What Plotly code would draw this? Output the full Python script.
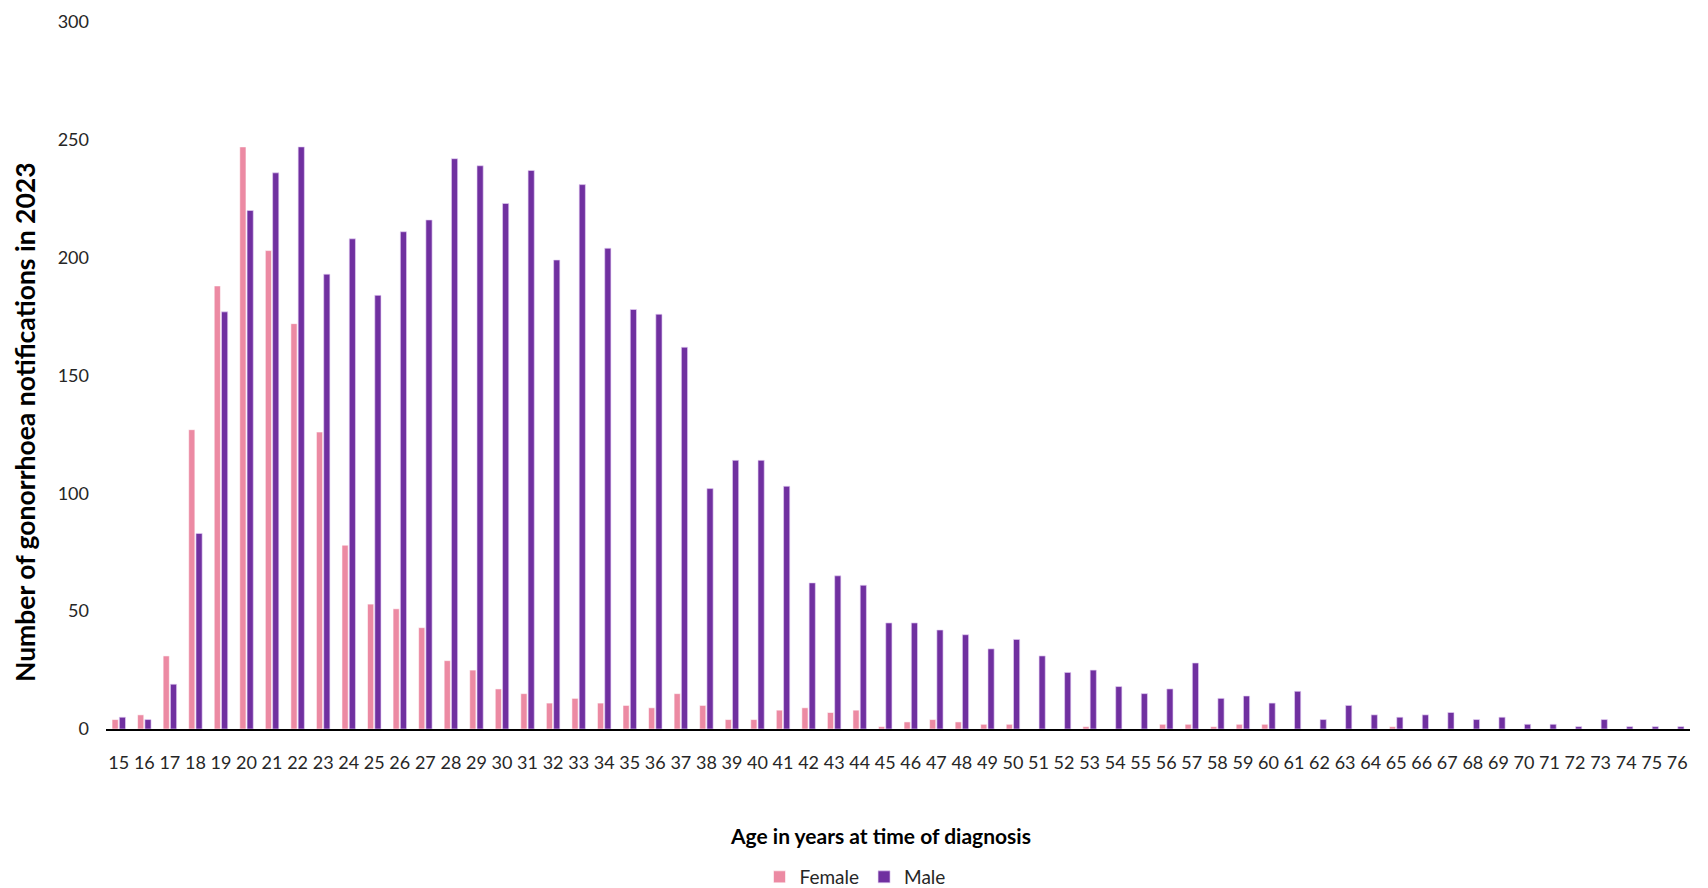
import plotly.graph_objects as go

ages = [str(a) for a in range(15, 77)]

female = [4, 6, 31, 127, 188, 247, 203, 172, 126, 78, 53, 51, 43, 29, 25, 17, 15, 11, 13, 11,
          10, 9, 15, 10, 4, 4, 8, 9, 7, 8, 1, 3, 4, 3, 2, 2, 0, 0, 1, 0,
          0, 2, 2, 1, 2, 2, 0, 0, 0, 0, 1, 0, 0, 0, 0, 0, 0, 0, 0, 0, 0, 0]

male = [5, 4, 19, 83, 177, 220, 236, 247, 193, 208, 184, 211, 216, 242, 239, 223, 237, 199, 231, 204,
        178, 176, 162, 102, 114, 114, 103, 62, 65, 61, 45, 45, 42, 40, 34, 38, 31, 24, 25, 18,
        15, 17, 28, 13, 14, 11, 16, 4, 10, 6, 5, 6, 7, 4, 5, 2, 2, 1, 4, 1, 1, 1]

y_ticks = [0, 50, 100, 150, 200, 250, 300]

FONT = "Lato"
TXT = "#262626"

fig = go.Figure()
fig.add_trace(go.Bar(x=ages, y=female, name="Female",
                     marker=dict(color="#EC8AA3", line=dict(color="rgba(255,255,255,0.7)", width=0.8))))
fig.add_trace(go.Bar(x=ages, y=male, name="Male",
                     marker=dict(color="#7030A0", line=dict(color="rgba(230,210,245,0.8)", width=0.8))))

W, H = 1708, 888
L, R, T, B = 98, 26, 14, 167
pw, ph = W - L - R, H - T - B

def px(xa):
    return (xa - L) / pw

def py(ya):
    return (H - B - ya) / ph

fig.update_layout(
    width=W, height=H,
    margin=dict(l=L, r=R, t=T, b=B, autoexpand=False),
    paper_bgcolor="white", plot_bgcolor="white",
    barmode="group", bargap=0.43, bargroupgap=0.15,
    font=dict(family=FONT, size=18, color=TXT),
    showlegend=True,
    legend=dict(orientation="h", x=px(847), y=py(869), xanchor="center", yanchor="middle",
                font=dict(family=FONT, size=19, color=TXT), itemwidth=30, tracegroupgap=0),
    xaxis=dict(type="category", showgrid=False, showline=True, linecolor="black", linewidth=2,
               ticks="", tickfont=dict(family=FONT, size=18, color=TXT), ticklabelstandoff=16,
               tickangle=0, automargin=False, ticklabeloverflow="allow"),
    yaxis=dict(range=[0, 300], tickvals=y_ticks, showgrid=False, zeroline=False, showline=False,
               ticks="", tickfont=dict(family=FONT, size=18, color=TXT), ticklabelstandoff=16,
               automargin=False, ticklabeloverflow="allow"),
    annotations=[
        dict(text="<b>Age in years at time of diagnosis</b>", xref="paper", yref="paper",
             x=px(872), y=py(827), xanchor="center", yanchor="middle", showarrow=False,
             font=dict(family=FONT, size=21, color="black")),
        dict(text="<b>Number of gonorrhoea notifications in 2023</b>", xref="paper", yref="paper",
             x=px(17), y=py(414), xanchor="center", yanchor="middle", showarrow=False, textangle=-90,
             font=dict(family=FONT, size=26.5, color="black")),
    ],
)

fig.write_html("out.html")
